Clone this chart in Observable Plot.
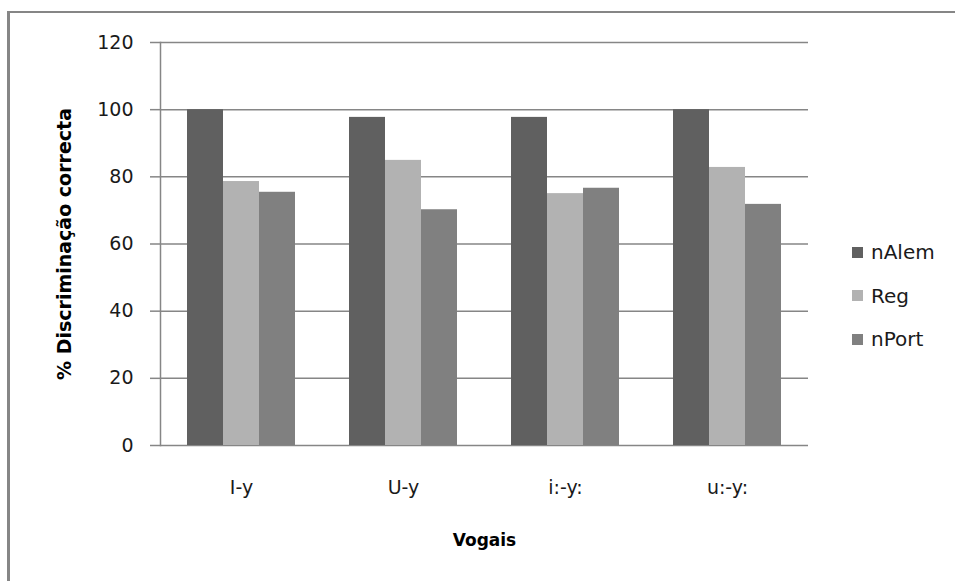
<!DOCTYPE html>
<html>
<head>
<meta charset="utf-8">
<script src="https://cdn.jsdelivr.net/npm/d3@7"></script>
<script src="https://cdn.jsdelivr.net/npm/@observablehq/plot@0.6"></script>
<style>
  html, body { margin: 0; padding: 0; background: #fff; }
  #wrap { position: relative; width: 955px; height: 581px; overflow: hidden; font-family: "DejaVu Sans", sans-serif; }
  #border { position: absolute; left: 7px; top: 11px; width: 1000px; height: 1000px;
            border-left: 3px solid #868686; border-top: 2px solid #868686; pointer-events: none; }
  #legend { position: absolute; left: 852px; top: 0; }
  .item { position: absolute; left: 0; display: flex; align-items: center; white-space: nowrap;
          font-size: 20px; color: #1a1a1a; transform: translateY(-50%); }
  .sw { width: 11px; height: 11px; margin-right: 8px; }
</style>
</head>
<body>
<div id="wrap">
  <div id="chart"></div>
  <div id="legend"></div>
  <div id="border"></div>
</div>
<script>
// Vowel contrasts on the x axis, listener groups as series
const categories = ["I-y", "U-y", "i:-y:", "u:-y:"];
const series = ["nAlem", "Reg", "nPort"];
const colors = ["#606060", "#b2b2b2", "#808080"];
const nAlem = [100, 97.7, 97.7, 100];
const reg = [78.6, 84.9, 75.0, 82.8];
const nPort = [75.4, 70.2, 76.6, 71.8];
const yTicks = [0, 20, 40, 60, 80, 100, 120];

const values = {nAlem, Reg: reg, nPort};
const data = categories.flatMap((cat, i) =>
  series.map(s => ({cat, series: s, value: values[s][i]}))
);

// Layout: each category band holds the three series side by side
const W = 955, H = 581;
const margin = {left: 160, right: 147, top: 42, bottom: 136};
const paddingInner = 1 / 3, paddingOuter = 1 / 6;
const step = (W - margin.left - margin.right) / (categories.length - paddingInner + 2 * paddingOuter);
const bandwidth = step * (1 - paddingInner);
const barW = bandwidth / series.length;

const bars = series.map((s, j) =>
  Plot.barY(data.filter(d => d.series === s), {
    x: "cat", y: "value", fill: "series",
    insetLeft: barW * j,
    insetRight: barW * (series.length - 1 - j)
  })
);

const chart = Plot.plot({
  width: W,
  height: H,
  marginLeft: margin.left,
  marginRight: margin.right,
  marginTop: margin.top,
  marginBottom: margin.bottom,
  style: {fontFamily: "DejaVu Sans, sans-serif", fontSize: "19px", color: "#1a1a1a", background: "transparent"},
  x: {domain: categories, paddingInner, paddingOuter, round: false, label: null, axis: null},
  y: {domain: [0, 120], axis: null},
  color: {domain: series, range: colors},
  marks: [
    Plot.ruleY(yTicks, {stroke: "#868686", strokeWidth: 1.5}),
    Plot.frame({anchor: "left", stroke: "#868686", strokeWidth: 1.5}),
    Plot.axisY({ticks: yTicks, tickSize: 10, tickPadding: 17, label: null,
                stroke: "#868686", fill: "#1a1a1a", strokeWidth: 1.5, strokeOpacity: 1}),
    ...bars,
    Plot.axisX({anchor: "bottom", tickSize: 0, tickPadding: 35, label: null, fill: "#1a1a1a"}),
    Plot.text(["Vogais"], {text: d => d, frameAnchor: "bottom", dy: 100,
                           fontWeight: "bold", fontSize: 17, fill: "#000"}),
    Plot.text(["% Discriminação correcta"], {text: d => d, frameAnchor: "left", dx: -96, rotate: -90,
                           textAnchor: "middle", fontWeight: "bold", fontSize: 19, fill: "#000"})
  ]
});
document.getElementById("chart").appendChild(chart);

// Legend, stacked vertically to the right of the plot
const legend = document.getElementById("legend");
const legendY = [252, 295.5, 339];
series.forEach((s, i) => {
  const item = document.createElement("div");
  item.className = "item";
  item.style.top = legendY[i] + "px";
  const sw = document.createElement("span");
  sw.className = "sw";
  sw.style.background = colors[i];
  item.appendChild(sw);
  item.appendChild(document.createTextNode(s));
  legend.appendChild(item);
});
</script>
</body>
</html>
